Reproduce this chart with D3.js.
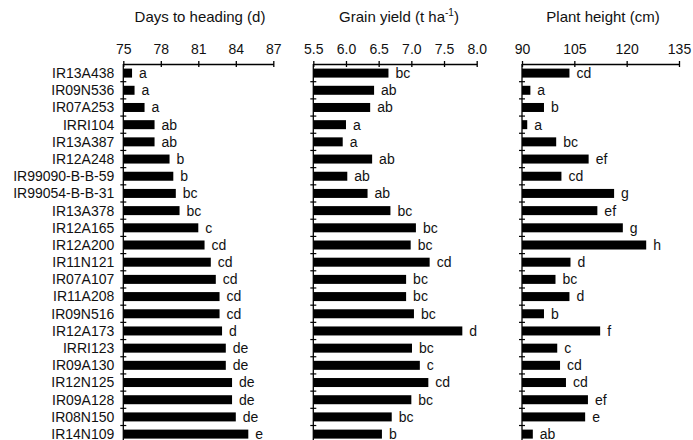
<!DOCTYPE html>
<html>
<head>
<meta charset="utf-8">
<script src="https://cdn.jsdelivr.net/npm/d3@7"></script>
<style>
  html, body { margin: 0; padding: 0; background: #fff; }
  svg { display: block; font-family: "Liberation Sans", Arial, Helvetica, sans-serif; }
</style>
</head>
<body>
<svg id="chart" width="693" height="440"></svg>
<script>
const genotypes = ["IR13A438","IR09N536","IR07A253","IRRI104","IR13A387","IR12A248","IR99090-B-B-59","IR99054-B-B-31","IR13A378","IR12A165","IR12A200","IR11N121","IR07A107","IR11A208","IR09N516","IR12A173","IRRI123","IR09A130","IR12N125","IR09A128","IR08N150","IR14N109"];

const daysToHeading = [75.7,75.9,76.7,77.5,77.5,78.7,79.0,79.2,79.5,81.0,81.5,82.0,82.4,82.7,82.7,82.9,83.2,83.2,83.7,83.7,84.0,85.0];
const daysLetters = ["a","a","a","ab","ab","b","b","bc","bc","c","cd","cd","cd","cd","cd","d","de","de","de","de","de","e"];

const grainYield = [6.65,6.43,6.37,6.00,5.95,6.40,6.02,6.33,6.68,7.07,6.99,7.28,6.92,6.92,7.04,7.78,7.01,7.13,7.26,7.00,6.70,6.55];
const yieldLetters = ["bc","ab","ab","a","a","ab","ab","ab","bc","bc","bc","cd","bc","bc","bc","d","bc","c","cd","bc","bc","b"];

const plantHeight = [103.6,92.4,96.3,91.5,99.8,109.1,101.3,116.4,111.6,118.9,125.6,103.9,99.6,103.6,96.3,112.4,100.1,100.9,102.6,108.9,108.1,93.1];
const heightLetters = ["cd","a","b","a","bc","ef","cd","g","ef","g","h","d","bc","d","b","f","c","cd","cd","ef","e","ab"];

const daysTicks = [75,78,81,84,87];
const yieldTicks = [5.5,6.0,6.5,7.0,7.5,8.0];
const heightTicks = [90,105,120,135];

const svg = d3.select("#chart");
const axisY = 64;
const barH = 9;

const y = d3.scaleBand().domain(genotypes).range([64.5, 442.7]).padding(0);

const panels = [
  {title: "Days to heading (d)", values: daysToHeading, letters: daysLetters, ticks: daysTicks,
   x: d3.scaleLinear().domain([75,87]).range([123.3,273.3]), fmt: d3.format("d"), tx: 200},
  {title: "Grain yield", values: grainYield, letters: yieldLetters, ticks: yieldTicks,
   x: d3.scaleLinear().domain([5.5,8.0]).range([313.3,476.7]), fmt: d3.format(".1f"), tx: 399, unit: true},
  {title: "Plant height (cm)", values: plantHeight, letters: heightLetters, ticks: heightTicks,
   x: d3.scaleLinear().domain([90,135]).range([522,679]), fmt: d3.format("d"), tx: 603}
];

panels.forEach((p, pi) => {
  const g = svg.append("g");
  const x0 = p.x.range()[0];

  // title
  const t = g.append("text").attr("x", p.tx).attr("y", 22).attr("text-anchor", "middle")
    .attr("font-size", 15).attr("fill", "#111");
  if (p.unit) {
    t.append("tspan").text("Grain yield (t ha");
    t.append("tspan").attr("font-size", 10).attr("dy", -6).text("-1");
    t.append("tspan").attr("dy", 6).text(")");
  } else {
    t.text(p.title);
  }

  // bars
  g.selectAll("rect.bar").data(genotypes).join("rect")
    .attr("class", "bar")
    .attr("x", x0)
    .attr("y", d => y(d) + (y.bandwidth() - barH) / 2)
    .attr("width", (d, i) => p.x(p.values[i]) - x0)
    .attr("height", barH)
    .attr("fill", "#000");

  // letters
  g.selectAll("text.let").data(genotypes).join("text")
    .attr("class", "let")
    .attr("x", (d, i) => p.x(p.values[i]) + 7)
    .attr("y", d => y(d) + y.bandwidth() / 2)
    .attr("dy", "0.35em")
    .attr("font-size", 14)
    .attr("fill", "#111")
    .text((d, i) => p.letters[i]);

  // top axis
  const ax = g.append("g").attr("transform", `translate(0,${axisY})`)
    .call(d3.axisTop(p.x).tickValues(p.ticks).tickFormat(p.fmt).tickSizeInner(3).tickSizeOuter(0).tickPadding(7));
  ax.select(".domain").attr("stroke", "#000").attr("stroke-width", 1.3);
  ax.selectAll(".tick line").attr("y1", 3).attr("y2", -3).attr("stroke", "#000").attr("stroke-width", 1.3);
  ax.selectAll(".tick text").attr("font-size", 14).attr("fill", "#111").attr("font-family", null);

  // vertical axis
  g.append("line").attr("x1", x0).attr("x2", x0).attr("y1", axisY).attr("y2", 440)
    .attr("stroke", "#000").attr("stroke-width", 1.3);
  g.selectAll("line.yt").data(genotypes.slice(1)).join("line")
    .attr("class", "yt")
    .attr("x1", x0 - 3).attr("x2", x0 + 3)
    .attr("y1", d => y(d)).attr("y2", d => y(d))
    .attr("stroke", "#000").attr("stroke-width", 1.2);

  // genotype labels for first panel
  if (pi === 0) {
    g.selectAll("text.lab").data(genotypes).join("text")
      .attr("class", "lab")
      .attr("x", x0 - 9)
      .attr("y", d => y(d) + y.bandwidth() / 2)
      .attr("dy", "0.35em")
      .attr("text-anchor", "end")
      .attr("font-size", 14)
      .attr("fill", "#111")
      .text(d => d);
  }
});
</script>
</body>
</html>
